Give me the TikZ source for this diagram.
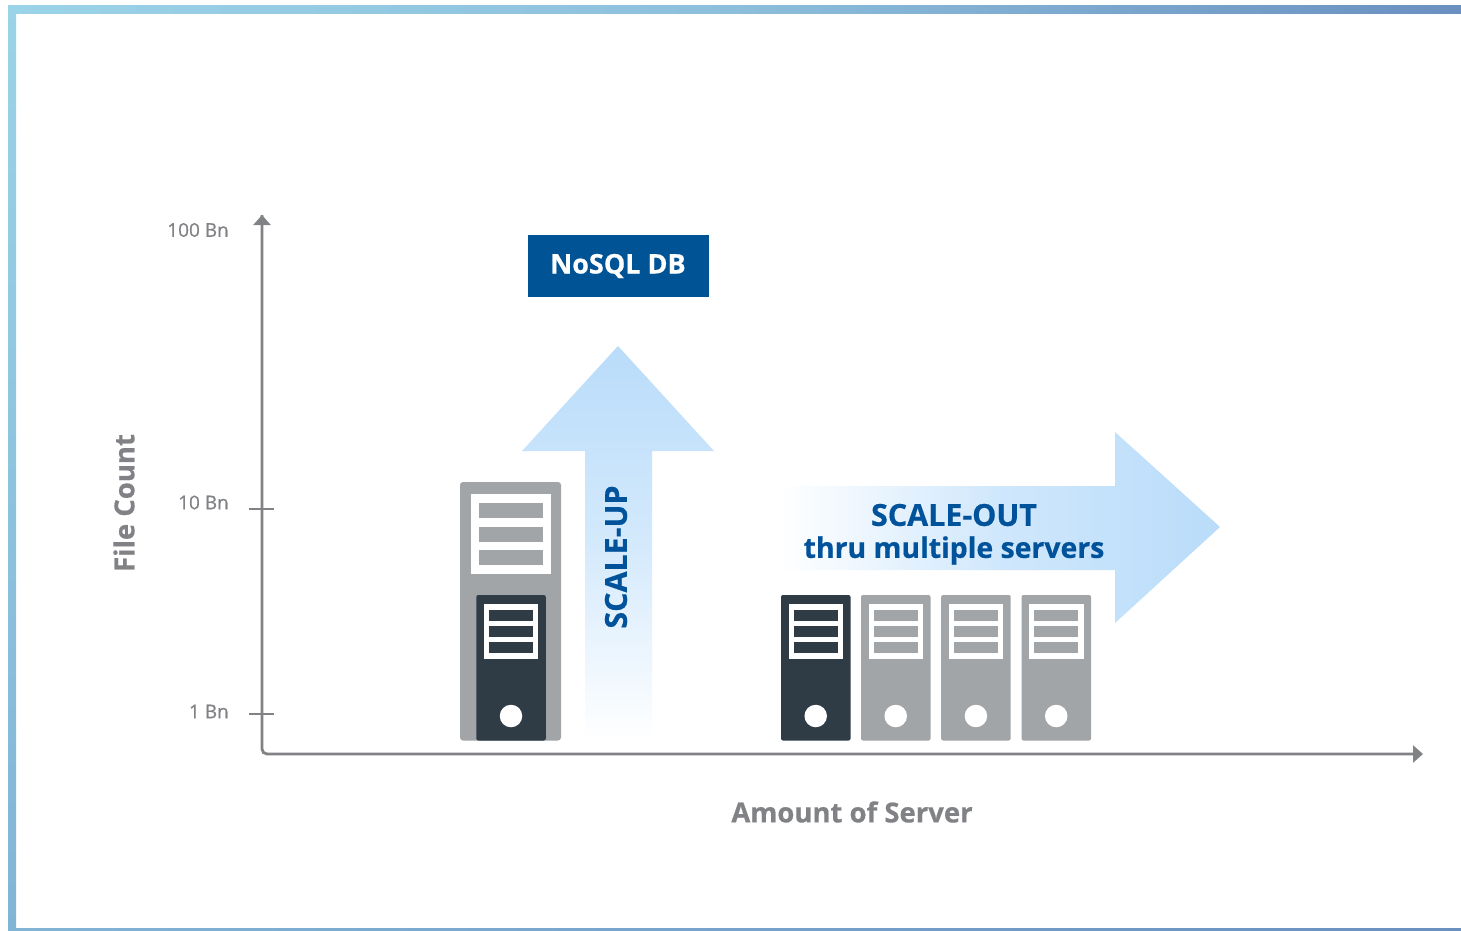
\documentclass[tikz,border=0pt]{standalone}
\usepackage{fontspec}
\setmainfont[BoldFeatures={FakeBold=0.5}]{Open Sans}
\newfontface\tickface[FakeBold=0.35]{Open Sans}
\usetikzlibrary{arrows.meta}
\definecolor{srvgray}{HTML}{A1A5A8}
\definecolor{srvdark}{HTML}{2F3B45}
\definecolor{axisgray}{HTML}{808285}
\definecolor{navy}{HTML}{00529B}
\definecolor{boxblue}{HTML}{005496}
\definecolor{sky}{HTML}{B9DCFA}
\definecolor{frameA}{HTML}{9BD3E8}
\definecolor{frameB}{HTML}{6A90C0}
\definecolor{frameC}{HTML}{82B4D6}
\newcommand{\smallbody}[4]{% x, body colour, bar colour, name
  \path[fill=#2,rounded corners=2] (#1,595) rectangle ++(69.5,145.5);
  \node[fill=white,inner sep=0,minimum width=54.5,minimum height=55,anchor=north west] (#4) at (#1+7.3,604) {};
  \foreach \yy in {610,626,642}
    \path[fill=#3] (#1+12.6,\yy) rectangle ++(44.2,10.5);
  \node[circle,fill=white,inner sep=0,minimum size=22.5] (#4c) at (#1+34.7,716) {};
}
\tikzset{
  x=1pt,y=-1pt,
  axisline/.style={draw=axisgray,line width=2.8pt},
  axistip/.style={-{Triangle[length=10pt,width=17pt]},rounded corners=5},
  tick/.style={draw=axisgray,line width=2.4pt},
  ticklabel/.style={text=axisgray,font=\fontsize{19}{22}\selectfont\tickface,anchor=east,inner sep=0},
  axislabel/.style={text=axisgray,font=\fontsize{27.5}{30}\selectfont\bfseries,inner sep=0},
  scaletext/.style={text=navy,font=\fontsize{30.4}{33}\selectfont\bfseries,inner sep=0,align=center}
}
\begin{document}
\begin{tikzpicture}
\useasboundingbox (0,0) rectangle (1461,930);
\fill[white] (0,0) rectangle (1461,930);
% frame
\shade[left color=frameA,right color=frameB,middle color=frameA!70!frameB] (8,5) rectangle (1461,13);
\shade[top color=frameA,bottom color=frameC] (8,5) rectangle (16,930);
\shade[left color=frameC,right color=frameB] (16,928) rectangle (1461,930);
% arrows
\shade[top color=sky,bottom color=white,middle color=sky!62!white]
  (618,346) -- (714,451) -- (652,451) -- (652,741) -- (585,741) -- (585,451) -- (522,451) -- cycle;
\shade[left color=white,right color=sky,middle color=sky!68!white]
  (780,486) -- (1115,486) -- (1115,432) -- (1220,527) -- (1115,623) -- (1115,570) -- (780,570) -- cycle;
% axes
\coordinate (ytop) at (262,215);
\coordinate (origin) at (262,754);
\coordinate (xend) at (1423,754);
\coordinate (t10a) at (249,509);
\coordinate (t10b) at (274,509);
\coordinate (t1a) at (249,714);
\coordinate (t1b) at (274,714);
\draw[axisline,axistip] (ytop) -- (origin) -- (xend);
\draw[axisline,{Triangle[length=10pt,width=17pt]}-] (ytop) -- ++(0,12);
\draw[tick] (t10a) -- (t10b);
\draw[tick] (t1a) -- (t1b);
\node[ticklabel] (l100) at (229,230) {100 Bn};
\node[ticklabel] (l10) at (229,502.5) {10 Bn};
\node[ticklabel] (l1) at (229,711.5) {1 Bn};
\node[axislabel,rotate=90] (ylab) at (124,503) {File Count};
\node[axislabel] (xlab) at (852,812) {Amount of Server};
% big server
\path[fill=srvgray,rounded corners=3] (460,482) rectangle (561,740.5);
\node[fill=white,inner sep=0,minimum width=80,minimum height=80,anchor=north west] (bigscreen) at (471,494) {};
\path[fill=srvgray] (479,503) rectangle (543,518);
\path[fill=srvgray] (479,527) rectangle (543,541.5);
\path[fill=srvgray] (479,550) rectangle (543,565);
\smallbody{476.3}{srvdark}{srvdark}{inner}
% server row
\smallbody{781}{srvdark}{srvdark}{sa}
\smallbody{861}{srvgray}{srvgray}{sb}
\smallbody{941.2}{srvgray}{srvgray}{sc}
\smallbody{1021.5}{srvgray}{srvgray}{sd}
% labels
\node[fill=boxblue,text=white,inner sep=0,minimum width=181,minimum height=62,font=\fontsize{27}{30}\selectfont\bfseries] (db) at (618,266) {\raisebox{-2pt}{NoSQL DB}};
\node[scaletext,rotate=90] (up) at (616,557) {SCALE-UP};
\node[scaletext] (out1) at (954,515) {SCALE-OUT};
\node[scaletext,font=\fontsize{28.4}{33}\selectfont\bfseries] (out2) at (954,550.5) {thru multiple servers};
\end{tikzpicture}
\end{document}
